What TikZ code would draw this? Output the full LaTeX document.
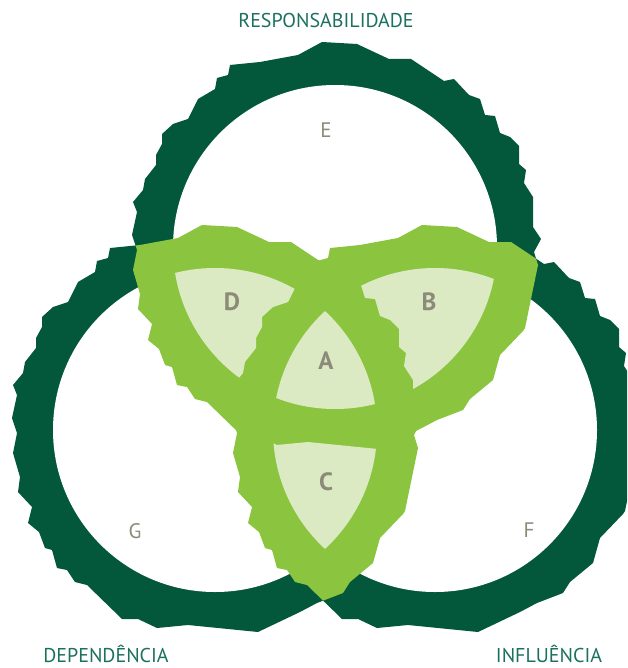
\documentclass[tikz,border=0pt]{standalone}
\usepackage{fontspec}
\setmainfont{PT Sans}
\definecolor{darkgreen}{HTML}{03573A}
\definecolor{leafgreen}{HTML}{8BC53F}
\definecolor{palegreen}{HTML}{DBEAC3}
\definecolor{lettergray}{HTML}{8C8A78}
\definecolor{labelteal}{HTML}{1B705E}
\begin{document}
\begin{tikzpicture}[x=1pt,y=-1pt,
  poly/.style={insert path={(-13,-205) -- (22,-203) -- (54,-188) -- (76,-188) -- (109,-166) -- (119,-168) -- (134,-152) -- (145,-148) -- (150,-132) -- (160,-131) -- (165,-114) -- (175,-110) -- (184,-101) -- (184,-83) -- (191,-77) -- (189,-64) -- (198,-50) -- (198,-20) -- (206,-8) -- (199,5) -- (203,18) -- (190,81) -- (188,84) -- (165,108) -- (158,133) -- (135,152) -- (128,163) -- (102,173) -- (85,182) -- (43,202) -- (-27,195) -- (-58,198) -- (-77,189) -- (-93,189) -- (-128,155) -- (-140,152) -- (-148,140) -- (-158,138) -- (-163,120) -- (-170,118) -- (-176,102) -- (-187,93) -- (-183,77) -- (-197,62) -- (-195,47) -- (-202,23) -- (-198,3) -- (-203,-12) -- (-198,-35) -- (-202,-45) -- (-192,-57) -- (-190,-68) -- (-179,-82) -- (-179,-92) -- (-173,-103) -- (-173,-113) -- (-162,-123) -- (-147,-128) -- (-137,-148) -- (-120,-158) -- (-118,-169) -- (-107,-172) -- (-105,-182) -- (-75,-185) -- (-37,-192) -- cycle}},
  disc/.style={insert path={(0,0) circle[radius=162]}},
  Otop/.style={shift={(335,247)},poly},
  Oleft/.style={shift={(215,430)},poly},
  Oright/.style={shift={(435,430)},poly},
  Itop/.style={shift={(335,247)},disc},
  Ileft/.style={shift={(215,430)},disc},
  Iright/.style={shift={(435,430)},disc},
  lbl/.style={inner sep=0pt,text=labelteal,font=\fontsize{20}{20}\selectfont},
  reg/.style={inner sep=0pt,text=lettergray,font=\fontsize{21}{21}\selectfont},
  zone/.style={inner sep=0pt,text=lettergray,font=\bfseries\fontsize{25}{25}\selectfont}]
\useasboundingbox (0,0) rectangle (627,668);
\clip (0,0) rectangle (627,668);
% dark rings
\fill[darkgreen][Otop];
\fill[darkgreen][Oleft];
\fill[darkgreen][Oright];
% white interiors
\fill[white][Itop];
\fill[white][Ileft];
\fill[white][Iright];
% light green: pairwise overlaps of the rings
\begin{scope}\clip[Otop]; \fill[leafgreen][Oleft]; \end{scope}
\begin{scope}\clip[Otop]; \fill[leafgreen][Oright]; \end{scope}
\begin{scope}\clip[Oleft]; \fill[leafgreen][Oright]; \end{scope}
% D
\begin{scope}\clip[Itop]; \clip[Ileft];
  \fill[palegreen,even odd rule] (-50,-50) rectangle (700,700) [Oright];
\end{scope}
% B
\begin{scope}\clip[Itop]; \clip[Iright];
  \fill[palegreen,even odd rule] (-50,-50) rectangle (700,700) [Oleft];
\end{scope}
% C
\begin{scope}\clip[Ileft]; \clip[Iright];
  \fill[palegreen,even odd rule] (-50,-50) rectangle (700,700) [Otop];
\end{scope}
% A
\begin{scope}\clip[Itop]; \clip[Ileft];
  \fill[palegreen][Iright];
\end{scope}
% labels
\node[lbl] (resp) at (326,21) {RESPONSABILIDADE};
\node[lbl,anchor=base] (dep) at (106,662) {DEPENDÊNCIA};
\node[lbl,anchor=base] (infl) at (549,662) {INFLUÊNCIA};
\node[reg] (e) at (326,130) {E};
\node[reg] (f) at (529,530) {F};
\node[reg] (g) at (135,531) {G};
\node[zone] (a) at (326,361) {A};
\node[zone] (b) at (429,302) {B};
\node[zone] (c) at (326,482) {C};
\node[zone] (d) at (232,302) {D};
\end{tikzpicture}
\end{document}
